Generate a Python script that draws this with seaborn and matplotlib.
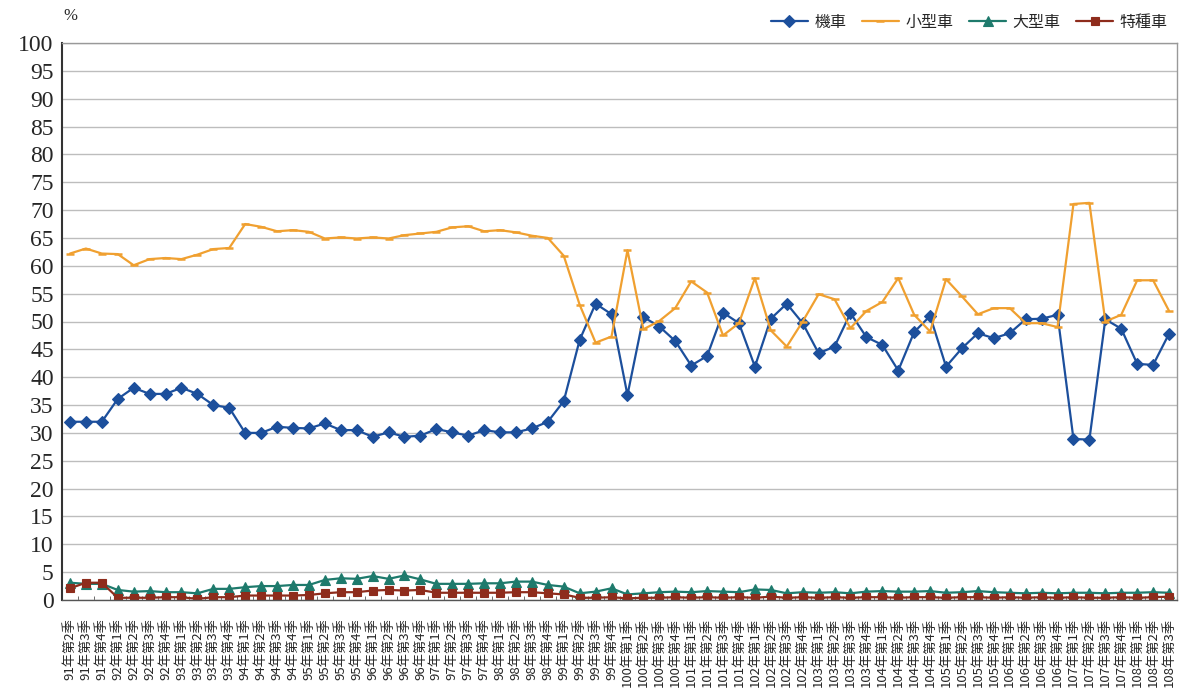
import numpy as np
import pandas as pd
import matplotlib
matplotlib.use("Agg")
import matplotlib.pyplot as plt
from matplotlib.ticker import FixedLocator
import seaborn as sns

# ---- data ----
quarters = [f"{y}年第{q}季" for y in range(91, 109) for q in range(1, 5)][1:-1]

motorcycle = [32, 32, 32, 36.1, 38.1, 37, 37, 38.1, 37, 35, 34.5, 30, 30, 31.1, 30.9, 30.8,
              31.7, 30.5, 30.5, 29.3, 30.1, 29.3, 29.5, 30.7, 30.1, 29.5, 30.5, 30.1, 30.1,
              30.8, 32, 35.7, 46.7, 53.2, 51.3, 36.8, 50.8, 49.1, 46.5, 42.1, 43.8, 51.6,
              49.7, 41.9, 50.5, 53.2, 49.7, 44.3, 45.5, 51.5, 47.2, 45.8, 41.2, 48.1, 51,
              41.9, 45.2, 47.9, 47, 47.9, 50.4, 50.5, 51.2, 28.9, 28.8, 50.4, 48.7, 42.4,
              42.2, 47.8]
small_car = [62.2, 63.1, 62.2, 62.1, 60.1, 61.2, 61.4, 61.2, 62, 63, 63.2, 67.5, 67, 66.2,
             66.4, 66.1, 64.9, 65.1, 64.9, 65.1, 64.9, 65.5, 65.8, 66.1, 66.9, 67.1, 66.2,
             66.4, 66, 65.4, 65, 61.8, 53, 46.2, 47.3, 62.8, 48.6, 50.1, 52.4, 57.2, 55.2,
             47.5, 49.7, 57.8, 48.4, 45.5, 50, 54.9, 54, 48.8, 51.9, 53.5, 57.8, 51.2, 48.2,
             57.6, 54.5, 51.3, 52.4, 52.4, 49.7, 49.7, 49, 71.1, 71.3, 50, 51.2, 57.4, 57.4,
             51.9]
large_car = [3.1, 2.9, 2.9, 1.8, 1.5, 1.6, 1.4, 1.4, 1.2, 2.0, 2.0, 2.3, 2.5, 2.5, 2.7, 2.7,
             3.6, 3.9, 3.8, 4.3, 3.8, 4.4, 3.7, 2.9, 2.9, 2.9, 3.0, 3.0, 3.3, 3.3, 2.7, 2.4,
             1.2, 1.5, 2.1, 1.0, 1.2, 1.4, 1.5, 1.4, 1.6, 1.5, 1.4, 1.9, 1.8, 1.2, 1.4, 1.3,
             1.4, 1.2, 1.5, 1.6, 1.5, 1.5, 1.6, 1.3, 1.4, 1.6, 1.4, 1.3, 1.2, 1.3, 1.2, 1.3,
             1.3, 1.2, 1.3, 1.3, 1.4, 1.3]
special_car = [2.1, 3.1, 3.1, 0.4, 0.4, 0.4, 0.5, 0.5, 0.2, 0.5, 0.5, 0.8, 0.8, 0.8, 0.8, 0.9,
               1.2, 1.4, 1.4, 1.7, 1.8, 1.7, 1.8, 1.3, 1.3, 1.3, 1.3, 1.3, 1.4, 1.4, 1.2, 1.0,
               0.4, 0.4, 0.5, 0.3, 0.4, 0.4, 0.5, 0.4, 0.5, 0.4, 0.5, 0.4, 0.6, 0.4, 0.5, 0.4,
               0.5, 0.4, 0.5, 0.5, 0.4, 0.5, 0.5, 0.4, 0.5, 0.5, 0.4, 0.5, 0.4, 0.5, 0.4, 0.5,
               0.4, 0.4, 0.5, 0.4, 0.5, 0.6]

series_names = ["機車", "小型車", "大型車", "特種車"]
colors = ["#1C4F9C", "#F0A030", "#1E7A6C", "#8E2C1C"]
markers = ["D", "_", "^", "s"]
msizes = [6, 6, 7, 5.5]

df = pd.DataFrame({
    "quarter": quarters * 4,
    "value": motorcycle + small_car + large_car + special_car,
    "type": sum([[n] * len(quarters) for n in series_names], []),
})

# ---- style ----
sns.set_style("white")
cjk = ["Noto Sans CJK TC", "DejaVu Sans"]
plt.rcParams["font.family"] = cjk

fig = plt.figure(figsize=(11.9, 6.98), dpi=100)
ax = fig.add_axes([62 / 1190, 1 - 600 / 698, (1177 - 62) / 1190, (600 - 43) / 698])

for name, c, m, ms in zip(series_names, colors, markers, msizes):
    sub = df[df["type"] == name]
    sns.lineplot(data=sub, x="quarter", y="value", sort=False, ax=ax, color=c,
                 marker=m, markersize=ms, markeredgecolor=c,
                 markeredgewidth=1.8 if m == "_" else 0.8,
                 linewidth=1.6, label=name)

ax.set_xlim(-0.5, len(quarters) - 0.5)
ax.set_ylim(0, 100)
ax.set_yticks(np.arange(0, 101, 5))
ax.set_yticklabels([str(v) for v in range(0, 101, 5)], fontfamily="Liberation Serif", fontsize=17)
ax.set_xticks(range(len(quarters)))
ax.set_xticklabels(quarters, rotation=90, fontsize=9.5, fontfamily=cjk)
ax.xaxis.set_minor_locator(FixedLocator(np.arange(-0.5, len(quarters), 1)))
ax.tick_params(axis="x", which="major", length=0, pad=13)
ax.tick_params(axis="x", which="minor", length=3, direction="in", color="#555555", bottom=True)
ax.tick_params(axis="y", length=4, direction="in", pad=6, color="#333333")
ax.yaxis.grid(True, color="#BDBDBD", linewidth=1)
ax.xaxis.grid(False)
ax.set_xlabel("")
ax.set_ylabel("")
for s in ["top", "right", "bottom"]:
    ax.spines[s].set_color("#999999")
    ax.spines[s].set_linewidth(1)
ax.spines["left"].set_color("#333333")
ax.spines["left"].set_linewidth(1.5)
ax.spines["bottom"].set_color("#555555")

fig.text(70 / 1190, 1 - 16 / 698, "%", fontsize=12, fontfamily="Liberation Serif",
         ha="center", va="center")

leg = ax.legend(loc="lower right", bbox_to_anchor=(1.0, 1.005), ncol=4, frameon=False,
                fontsize=11.5, handlelength=2.3, columnspacing=1.0, handletextpad=0.4,
                borderaxespad=0.2)

fig.savefig("out.png", dpi=100)
